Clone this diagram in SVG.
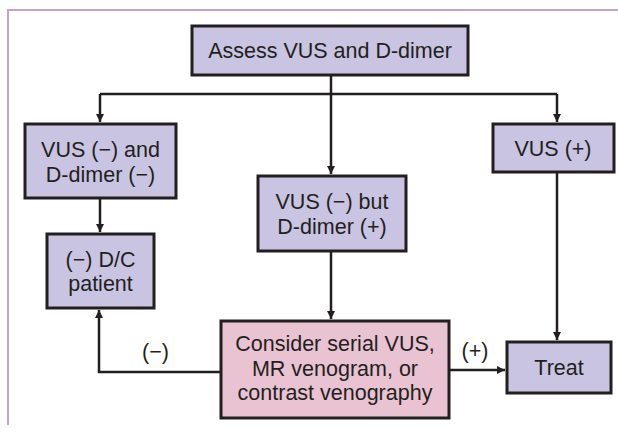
<svg xmlns="http://www.w3.org/2000/svg" width="618" height="430" viewBox="0 0 618 430">
  <defs>
    <marker id="arrow" markerWidth="8" markerHeight="12" refX="8" refY="6" orient="auto" markerUnits="userSpaceOnUse">
      <path d="M0,2 L8,6 L0,10 Z" fill="#231f20"/>
    </marker>
    <style>
      .box { stroke: #231f20; stroke-width: 3; }
      .lav { fill: #c8c4e2; }
      .pink { fill: #e9c3d1; }
      .lbl { font-family: "Liberation Sans", Arial, sans-serif; font-size: 21.5px; fill: #231f20; text-anchor: middle; }
      .edge { fill: none; stroke: #231f20; stroke-width: 2.5; }
      .frame { fill: none; stroke: #c6a4c9; stroke-width: 2; }
    </style>
  </defs>

  <rect width="618" height="430" fill="#ffffff"/>

  <!-- page frame -->
  <path class="frame" d="M8,425 L8,10 L618,10"/>

  <!-- connectors -->
  <g id="connectors">
    <path class="edge" d="M100,94 L557,94"/>
    <line class="edge" x1="331" y1="75" x2="331" y2="174" marker-end="url(#arrow)"/>
    <line class="edge" x1="100" y1="94" x2="100" y2="122" marker-end="url(#arrow)"/>
    <line class="edge" x1="557" y1="94" x2="557" y2="122" marker-end="url(#arrow)"/>
    <line class="edge" x1="100" y1="198" x2="100" y2="232" marker-end="url(#arrow)"/>
    <line class="edge" x1="331" y1="251" x2="331" y2="319" marker-end="url(#arrow)"/>
    <line class="edge" x1="557" y1="172" x2="557" y2="340" marker-end="url(#arrow)"/>
    <path class="edge" d="M221,372 L99,372 L99,310" marker-end="url(#arrow)"/>
    <line class="edge" x1="449" y1="370" x2="505" y2="370" marker-end="url(#arrow)"/>
    <text class="lbl" x="155.5" y="359">(−)</text>
    <text class="lbl" x="475" y="358">(+)</text>
  </g>

  <!-- nodes -->
  <g id="assess">
    <rect class="box lav" x="192" y="26" width="276" height="49"/>
    <text class="lbl" x="330" y="58">Assess VUS and D-dimer</text>
  </g>

  <g id="vus-neg-ddimer-neg">
    <rect class="box lav" x="25" y="124" width="151" height="74"/>
    <text class="lbl" x="100.5" y="157">VUS (−) and</text>
    <text class="lbl" x="100.5" y="182">D-dimer (−)</text>
  </g>

  <g id="vus-neg-ddimer-pos">
    <rect class="box lav" x="258" y="176" width="148" height="75"/>
    <text class="lbl" x="332" y="209">VUS (−) but</text>
    <text class="lbl" x="332" y="234">D-dimer (+)</text>
  </g>

  <g id="vus-pos">
    <rect class="box lav" x="493" y="124" width="121" height="48"/>
    <text class="lbl" x="553" y="156">VUS (+)</text>
  </g>

  <g id="dc-patient">
    <rect class="box lav" x="47" y="234" width="107" height="74"/>
    <text class="lbl" x="100.5" y="267">(−) D/C</text>
    <text class="lbl" x="100.5" y="291">patient</text>
  </g>

  <g id="consider">
    <rect class="box pink" x="221" y="321" width="228" height="97"/>
    <text class="lbl" x="335" y="351">Consider serial VUS,</text>
    <text class="lbl" x="335" y="376">MR venogram, or</text>
    <text class="lbl" x="335" y="400">contrast venography</text>
  </g>

  <g id="treat">
    <rect class="box lav" x="507" y="342" width="104" height="51"/>
    <text class="lbl" x="559" y="375">Treat</text>
  </g>
</svg>
